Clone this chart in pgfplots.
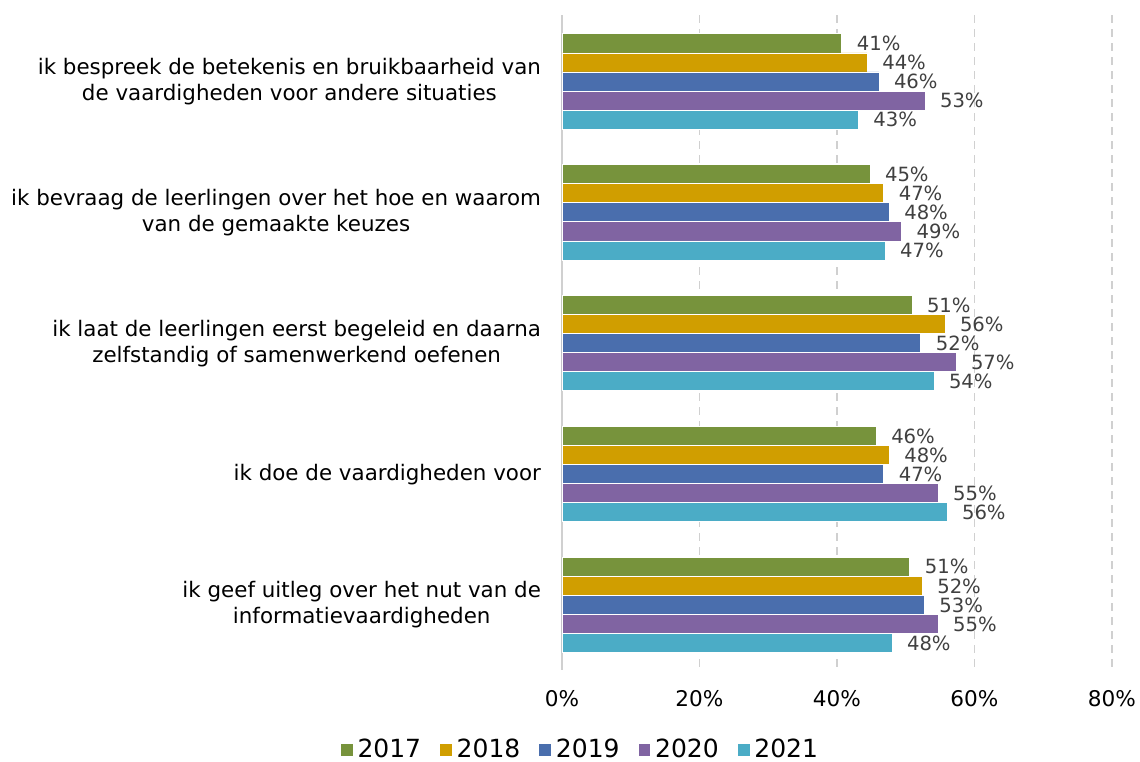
\documentclass[border=0pt]{standalone}
\usepackage{pgfplots}
\usepackage{pgfplotstable}
\usepackage{fontspec}
\setmainfont{DejaVu Sans}
\pgfplotsset{compat=1.18}
\definecolor{c17}{HTML}{77933C}
\definecolor{c18}{HTML}{D09E00}
\definecolor{c19}{HTML}{4A6EAD}
\definecolor{c20}{HTML}{8064A2}
\definecolor{c21}{HTML}{4BACC6}
\definecolor{gridc}{HTML}{D0D0D0}
\definecolor{valc}{HTML}{404040}

% idx 0 = top category
\pgfplotstableread{
idx y2017 y2018 y2019 y2020 y2021
0   40.7  44.4  46.1  52.8  43.1
1   44.8  46.8  47.6  49.4  47.0
2   50.9  55.7  52.2  57.3  54.1
3   45.7  47.6  46.8  54.7  56.0
4   50.6  52.4  52.7  54.7  48.0
}\data

\begin{document}
\begin{tikzpicture}
\path[use as bounding box] (-281pt,-45.5pt) rectangle (289pt,335pt);
\begin{axis}[
  scale only axis,
  width=275pt, height=327.5pt,
  xbar, bar shift=0pt, bar width=0.1456,
  y dir=reverse,
  xmin=0, xmax=80, ymin=-0.508, ymax=4.497,
  xtick={0,20,40,60,80},
  xticklabel={\pgfmathprintnumber{\tick}\%},
  /pgf/number format/assume math mode=true,
  xticklabel style={font=\fontsize{10.8}{12}\selectfont, yshift=-6.5pt},
  ytick={0,1,2,3,4},
  yticklabels={
    {ik bespreek de betekenis en bruikbaarheid van\\de vaardigheden voor andere situaties},
    {ik bevraag de leerlingen over het hoe en waarom\\van de gemaakte keuzes},
    {ik laat de leerlingen eerst begeleid en daarna\\zelfstandig of samenwerkend oefenen},
    {ik doe de vaardigheden voor},
    {ik geef uitleg over het nut van de\\informatievaardigheden}},
  yticklabel style={font=\fontsize{10.7}{13}\selectfont, align=center, xshift=-7pt},
  major tick length=0pt,
  axis line style={draw=none},
  xmajorgrids, grid style={gridc, line width=0.9pt, dash pattern=on 4pt off 3pt},
  extra x ticks={0}, extra x tick labels={},
  extra x tick style={grid style={gridc, solid, line width=0.9pt}},
  clip=false,
  point meta=x,
  nodes near coords={\pgfmathprintnumber[fixed,precision=0]{\pgfplotspointmeta}\%},
  nodes near coords style={font=\fontsize{9.8}{11}\selectfont, text=valc, anchor=west, xshift=4pt},
  every axis plot/.append style={draw=white, line width=0.4pt},
  legend image code/.code={\fill[#1] (0pt,-3.2pt) rectangle (6.4pt,3.2pt);},
  legend columns=5,
  legend style={at={(axis description cs:0.0345,-0.122)}, anchor=center, draw=none,
    font=\fontsize{12.5}{14}\selectfont,
    /tikz/every even column/.append style={column sep=7pt}},
]
\addplot[fill=c17] table[x=y2017, y expr=\thisrow{idx}-0.2912] {\data};
\addplot[fill=c18] table[x=y2018, y expr=\thisrow{idx}-0.1456] {\data};
\addplot[fill=c19] table[x=y2019, y expr=\thisrow{idx}] {\data};
\addplot[fill=c20] table[x=y2020, y expr=\thisrow{idx}+0.1456] {\data};
\addplot[fill=c21] table[x=y2021, y expr=\thisrow{idx}+0.2912] {\data};
\legend{2017,2018,2019,2020,2021}
\end{axis}
\end{tikzpicture}
\end{document}
